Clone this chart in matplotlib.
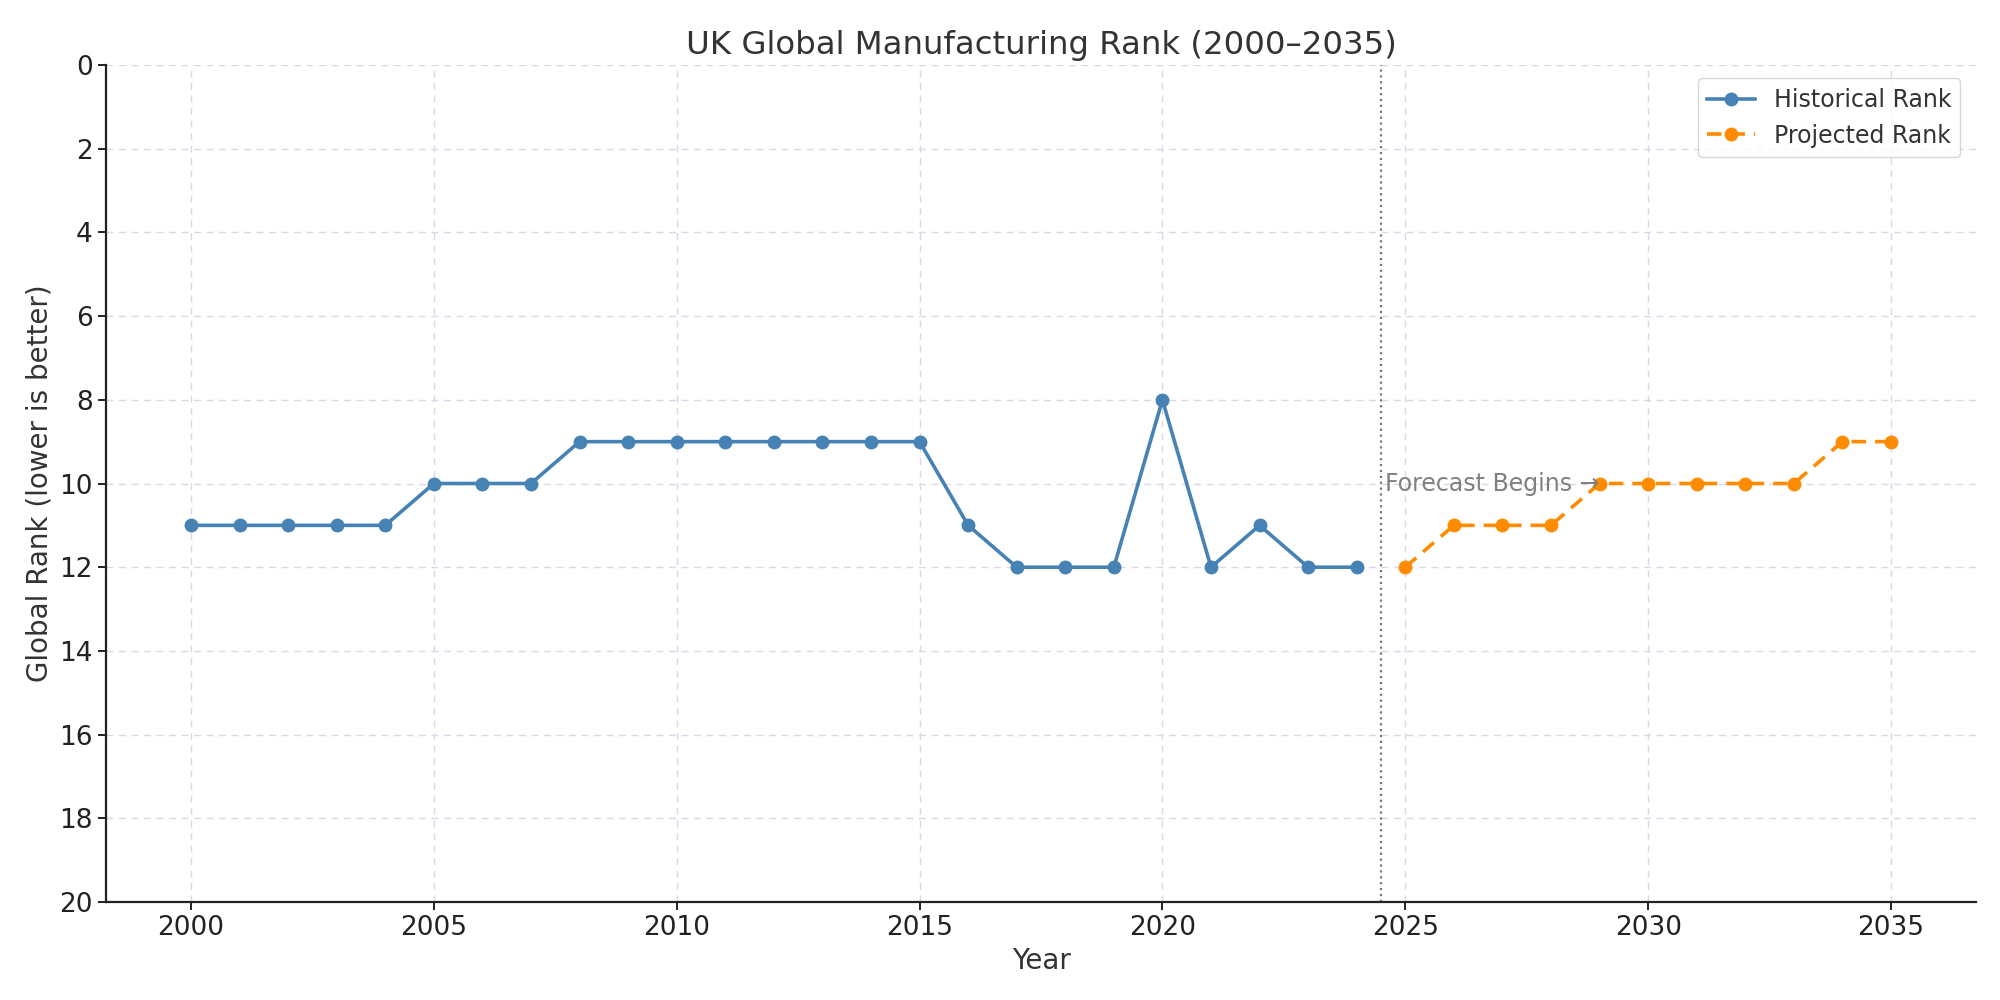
import matplotlib
matplotlib.use("Agg")
import matplotlib.pyplot as plt

hist_years = list(range(2000, 2025))
hist_rank = [11, 11, 11, 11, 11, 10, 10, 10, 9, 9, 9, 9, 9, 9, 9, 9,
             11, 12, 12, 12, 8, 12, 11, 12, 12]
proj_years = list(range(2025, 2036))
proj_rank = [12, 11, 11, 11, 10, 10, 10, 10, 10, 9, 9]

fig = plt.figure(figsize=(20, 10), dpi=100)
ax = fig.add_axes([0.053, 0.098, 0.935, 0.837])

ax.plot(hist_years, hist_rank, color="#4682B4", marker="o", lw=2.6, ms=9,
        label="Historical Rank")
ax.plot(proj_years, proj_rank, color="#FF8C00", marker="o", lw=2.6, ms=9,
        ls=(0, (4, 2.5)), label="Projected Rank")
ax.axvline(2024.5, color="#777777", ls=":", lw=1.6)
ax.text(2024.58, 10, "Forecast Begins \u2192", color="#808080", fontsize=17,
        ha="left", va="center")

ax.set_ylim(20, 0)
ax.set_yticks(range(0, 21, 2))
ax.set_xticks(range(2000, 2036, 5))
ax.set_xlim(1998.25, 2036.75)
ax.grid(True, ls=(0, (5, 4)), color="#DCD6E6", lw=1)
ax.set_axisbelow(True)
for s in ["top", "right"]:
    ax.spines[s].set_visible(False)
for s in ["left", "bottom"]:
    ax.spines[s].set_linewidth(1.6)
    ax.spines[s].set_color("#222222")
ax.tick_params(labelsize=19, colors="#222222", length=6, width=1.4)
ax.set_xlabel("Year", fontsize=20, color="#333333")
ax.set_ylabel("Global Rank (lower is better)", fontsize=20, color="#333333")
ax.set_title("UK Global Manufacturing Rank (2000\u20132035)", fontsize=23.3,
             color="#333333", pad=8)
leg = ax.legend(loc="upper right", fontsize=17, frameon=True,
                bbox_to_anchor=(0.998, 0.998))
leg.get_frame().set_edgecolor("#CCCCCC")
for t in leg.get_texts():
    t.set_color("#333333")

fig.savefig("out.png", dpi=100)
